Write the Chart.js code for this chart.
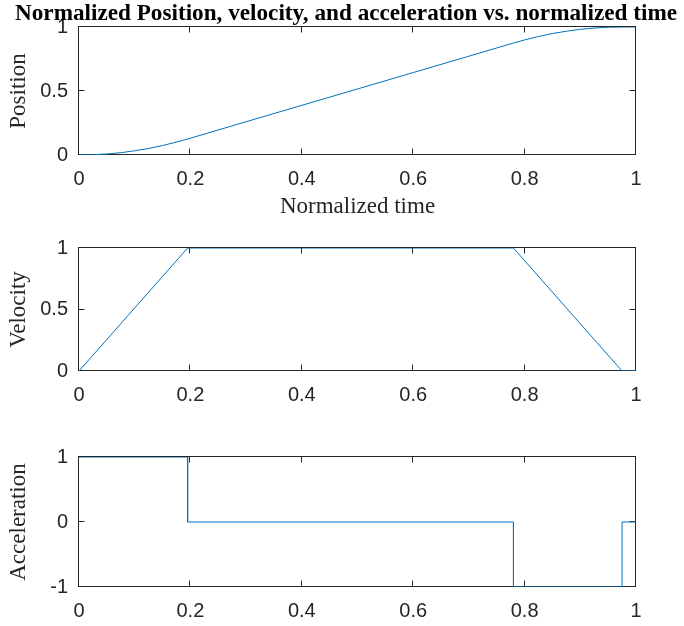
<!DOCTYPE html>
<html>
<head>
<meta charset="utf-8">
<script src="https://cdn.jsdelivr.net/npm/chart.js@4/dist/chart.umd.min.js"></script>
<style>
  html, body { margin: 0; padding: 0; background: #fff; }
  body { width: 684px; height: 626px; position: relative; overflow: hidden; }
  .wrap { position: absolute; left: 0; width: 684px; }
  canvas { display: block; }
</style>
</head>
<body>
<div class="wrap" id="w1" style="top:0;height:225px"><canvas id="c1"></canvas></div>
<div class="wrap" id="w2" style="top:225px;height:185px"><canvas id="c2"></canvas></div>
<div class="wrap" id="w3" style="top:410px;height:216px"><canvas id="c3"></canvas></div>
<script>
// ---- data ----
const titleText = 'Normalized Position, velocity, and acceleration vs. normalized time';
const xTitle = 'Normalized time';
const yTitles = ['Position', 'Velocity', 'Acceleration'];

const posTime = [0, 0.025, 0.05, 0.075, 0.1, 0.125, 0.15, 0.175, 0.195, 0.2, 0.3, 0.4, 0.5, 0.6, 0.7, 0.78, 0.8, 0.825, 0.85, 0.875, 0.9, 0.925, 0.95, 0.975, 1];
const posValue = [0, 0.002, 0.008, 0.018, 0.033, 0.051, 0.074, 0.101, 0.125, 0.131, 0.260, 0.388, 0.516, 0.644, 0.772, 0.875, 0.899, 0.926, 0.949, 0.967, 0.982, 0.992, 0.998, 1, 1];

const velTime = [0, 0.195, 0.78, 0.975, 1];
const velValue = [0, 1, 1, 0, 0];

const accTime = [0, 0.195, 0.195, 0.78, 0.78, 0.975, 0.975, 1];
const accValue = [1, 1, 0, 0, -1, -1, 0, 0];

const xTicks = [0, 0.2, 0.4, 0.6, 0.8, 1];
const yTicksPos = [0, 0.5, 1];
const yTicksVel = [0, 0.5, 1];
const yTicksAcc = [-1, 0, 1];

// ---- styling ----
const LINE = '#0072BD';
const AX = '#262626';
const sansFont = 'Liberation Sans, Arial, sans-serif';
const serifFont = 'Liberation Serif, Times New Roman, serif';

function pts(xs, ys) { return xs.map((x, i) => ({ x: x, y: ys[i] })); }
function fmt(v) { return String(Math.round(v * 100) / 100); }

const boxPlugin = {
  id: 'matlabBox',
  beforeDatasetsDraw(chart, args, opts) {
    const { ctx, chartArea: a, scales } = chart;
    const L = Math.round(a.left) - 0.5, R = Math.round(a.right) - 0.5;
    const T = Math.round(a.top) - 0.5, B = Math.round(a.bottom) - 0.5;
    ctx.save();
    ctx.strokeStyle = AX;
    ctx.lineWidth = 1;
    ctx.strokeRect(L, T, R - L, B - T);
    const tl = 6;
    ctx.beginPath();
    opts.xt.forEach(v => {
      const px = Math.round(scales.x.getPixelForValue(v)) - 0.5;
      ctx.moveTo(px, B); ctx.lineTo(px, B - tl);
      ctx.moveTo(px, T); ctx.lineTo(px, T + tl);
    });
    opts.yt.forEach(v => {
      const py = Math.round(scales.y.getPixelForValue(v)) - 0.5;
      ctx.moveTo(L, py); ctx.lineTo(L + tl, py);
      ctx.moveTo(R, py); ctx.lineTo(R - tl, py);
    });
    ctx.stroke();
    if (opts.title) {
      ctx.fillStyle = '#000';
      ctx.font = 'bold 23.2px ' + serifFont;
      ctx.textAlign = 'center';
      ctx.textBaseline = 'alphabetic';
      ctx.fillText(opts.title, 346, 20);
    }
    ctx.restore();
  }
};

function makeChart(id, data, yMin, yMax, yt, yLabel, opts) {
  return new Chart(document.getElementById(id), {
    type: 'scatter',
    data: { datasets: [{
      data: data, showLine: true, borderColor: LINE, backgroundColor: LINE,
      borderWidth: 1, pointRadius: 0, pointHoverRadius: 0, tension: 0
    }] },
    plugins: [boxPlugin],
    options: {
      responsive: true, maintainAspectRatio: false, animation: false,
      events: [],
      layout: { padding: { left: 0, right: 48, top: opts.padTop, bottom: 0 } },
      plugins: {
        legend: { display: false }, tooltip: { enabled: false },
        title: { display: false },
        matlabBox: { xt: xTicks, yt: yt, title: opts.title || null }
      },
      scales: {
        x: {
          type: 'linear', min: 0, max: 1,
          afterBuildTicks: s => { s.ticks = xTicks.map(v => ({ value: v })); },
          ticks: { color: AX, font: { family: sansFont, size: 20 }, padding: 12, maxRotation: 0, autoSkip: false,
                   callback: v => fmt(v) },
          grid: { display: false, drawTicks: false }, border: { display: false },
          title: opts.xTitle ? { display: true, text: opts.xTitle, color: AX,
            font: { family: serifFont, size: 23 }, padding: { top: 0, bottom: 4 } } : { display: false },
          afterFit: s => { s.height = opts.xH; }
        },
        y: {
          type: 'linear', min: yMin, max: yMax,
          afterBuildTicks: s => { s.ticks = yt.map(v => ({ value: v })); },
          ticks: { color: AX, font: { family: sansFont, size: 20 }, padding: 11, callback: v => fmt(v) },
          grid: { display: false, drawTicks: false }, border: { display: false },
          title: { display: true, text: yLabel, color: AX,
            font: { family: serifFont, size: 23 }, padding: { top: 5, bottom: 0 } },
          afterFit: s => { s.width = 79; }
        }
      }
    }
  });
}

makeChart('c1', pts(posTime, posValue), 0, 1, yTicksPos, yTitles[0],
  { padTop: 27, title: titleText, xTitle: xTitle, xH: 70 });
makeChart('c2', pts(velTime, velValue), 0, 1, yTicksVel, yTitles[1],
  { padTop: 18, xH: 39 });
makeChart('c3', pts(accTime, accValue), -1, 1, yTicksAcc, yTitles[2],
  { padTop: 47, xH: 39 });
</script>
</body>
</html>
